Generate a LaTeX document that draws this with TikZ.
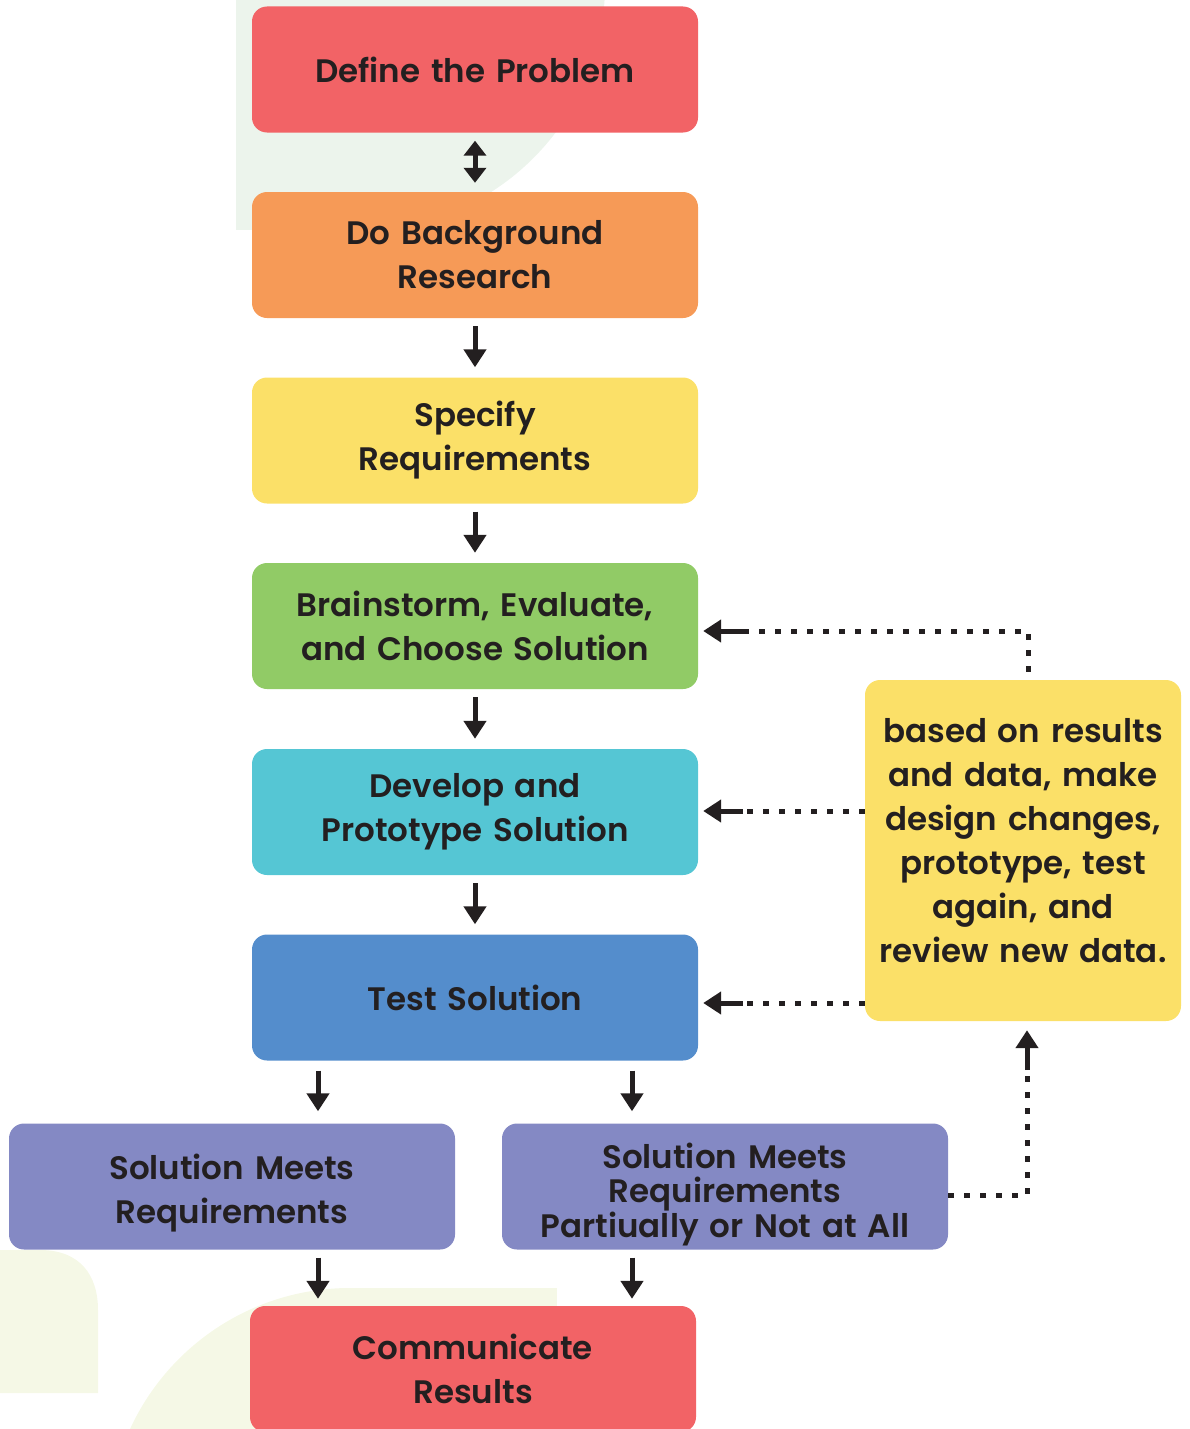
\documentclass[tikz,border=0pt]{standalone}
\usepackage{fontspec}
\setmainfont{Poppins}[BoldFont = * SemiBold]
\usepackage{xcolor}
\usetikzlibrary{arrows.meta, positioning}

\definecolor{inkdark}{HTML}{231F20}
\definecolor{probred}{HTML}{F26366}
\definecolor{resorange}{HTML}{F69A57}
\definecolor{reqyellow}{HTML}{FBE068}
\definecolor{idgreen}{HTML}{91CB66}
\definecolor{protocyan}{HTML}{55C6D4}
\definecolor{testblue}{HTML}{548DCC}
\definecolor{outpurple}{HTML}{8489C4}
\definecolor{paleground}{HTML}{ECF4EC}
\definecolor{palelime}{HTML}{F5F8E6}

\tikzset{
	stage/.style = {rectangle, rounded corners = 15pt, minimum width = 446pt, minimum height = 126pt,
		text width = 440pt, align = center, text = inkdark, inner sep = 0pt,
		font = \fontsize{32.5}{44}\selectfont\bfseries},
	flow/.style = {line width = 5pt, draw = inkdark, -{Triangle[width = 22pt, length = 18pt]}},
	loopback/.style = {line width = 5pt, draw = inkdark, dash pattern = on 6pt off 10pt}
}

\begin{document}
\begin{tikzpicture}[x = 1pt, y = -1pt]
	\useasboundingbox (0,0) rectangle (1189,1429);

	% pale shapes behind the chart
	\begin{scope}
		\clip (236,0) rectangle (1189,230);
		\fill [paleground] (236,-300) rectangle (360,230);
		\fill [paleground] (360,-15) circle (245);
	\end{scope}
	\fill [palelime] (0,1393) -- (0,1250) -- (40,1250) .. controls (80,1250) and (98,1275) .. (98,1310) -- (98,1393) -- cycle;
	\begin{scope}
		\clip (0,1288) rectangle (557,1429);
		\fill [palelime] (350,1288) rectangle (557,1429);
		\fill [palelime] (350,1530) circle (242);
	\end{scope}

	% the steps
	\node [stage, fill = probred] (problem) at (475,69.5) {Define the Problem};
	\node [stage, fill = resorange] (research) at (475,255) {Do Background\\Research};
	\node [stage, fill = reqyellow] (specify) at (475,440.5) {Specify\\Requirements};
	\node [stage, fill = idgreen] (brainstorm) at (475,626) {Brainstorm, Evaluate,\\and Choose Solution};
	\node [stage, fill = protocyan] (develop) at (475,812) {Develop and\\Prototype Solution};
	\node [stage, fill = testblue] (test) at (475,997.5) {Test Solution};
	\node [stage, fill = outpurple, text depth = 40pt] (meets) at (232,1186.5) {Solution Meets\\Requirements};
	\node [stage, fill = outpurple, font = \fontsize{32.5}{34}\selectfont\bfseries, text depth = 62pt] (partial) at (725,1186.5)
		{Solution Meets\\Requirements\\Partiually or Not at All};
	\node [stage, fill = probred] (communicate) at (473,1369) {Communicate\\Results};
	\node [stage, fill = reqyellow, minimum width = 316pt, minimum height = 341pt, text width = 316pt, text depth = 240pt] (note) at (1023,850.5)
		{based on results\\and data, make\\design changes,\\prototype, test\\again, and\\review new data.};

	% arrows down the column
	\draw [line width = 5pt, draw = inkdark, {Triangle[width = 22pt, length = 15pt]}-{Triangle[width = 22pt, length = 15pt]},
		shorten < = 8pt, shorten > = 9pt] (problem) -- (research);
	\begin{scope}[flow, shorten < = 8pt, shorten > = 10pt]
		\draw (research) -- (specify);
		\draw (specify) -- (brainstorm);
		\draw (brainstorm) -- (develop);
		\draw (develop) -- (test);
	\end{scope}
	\begin{scope}[flow, shorten < = 10pt, shorten > = 12pt]
		\draw ([xshift = -157pt]test.south) -- ([xshift = -157pt]test.south |- meets.north);
		\draw ([xshift = 157pt]test.south) -- ([xshift = 157pt]test.south |- partial.north);
	\end{scope}
	\begin{scope}[flow, shorten < = 8pt, shorten > = 7pt]
		\draw ([xshift = -157pt]test.south |- meets.south) -- ([xshift = -157pt]test.south |- communicate.north);
		\draw ([xshift = 157pt]test.south |- partial.south) -- ([xshift = 157pt]test.south |- communicate.north);
	\end{scope}

	% dotted feedback lines
	\coordinate (bendtop) at (1028,631);
	\coordinate (tiptop) at (743,631);
	\coordinate (tipmid) at (743,811);
	\coordinate (tiplow) at (743,1003);
	\coordinate (bendup) at (1027,1195);
	\coordinate (tipup) at (1027,1070);

	\draw [loopback] (note.north -| bendtop) ++(0,-8) -- (bendtop) -- (tiptop);
	\draw [loopback] (note.west |- tipmid) -- (tipmid);
	\draw [loopback] (note.west |- tiplow) -- (tiplow);
	\draw [loopback] (partial.east |- bendup) -- (bendup) -- (tipup);

	\draw [flow, shorten > = 5pt] (tiptop) -- (brainstorm.east |- tiptop);
	\draw [flow, shorten > = 5pt] (tipmid) -- (develop.east |- tipmid);
	\draw [flow, shorten > = 5pt] (tiplow) -- (test.east |- tiplow);
	\draw [flow, shorten > = 9pt] (tipup) -- (note.south -| tipup);
\end{tikzpicture}
\end{document}
